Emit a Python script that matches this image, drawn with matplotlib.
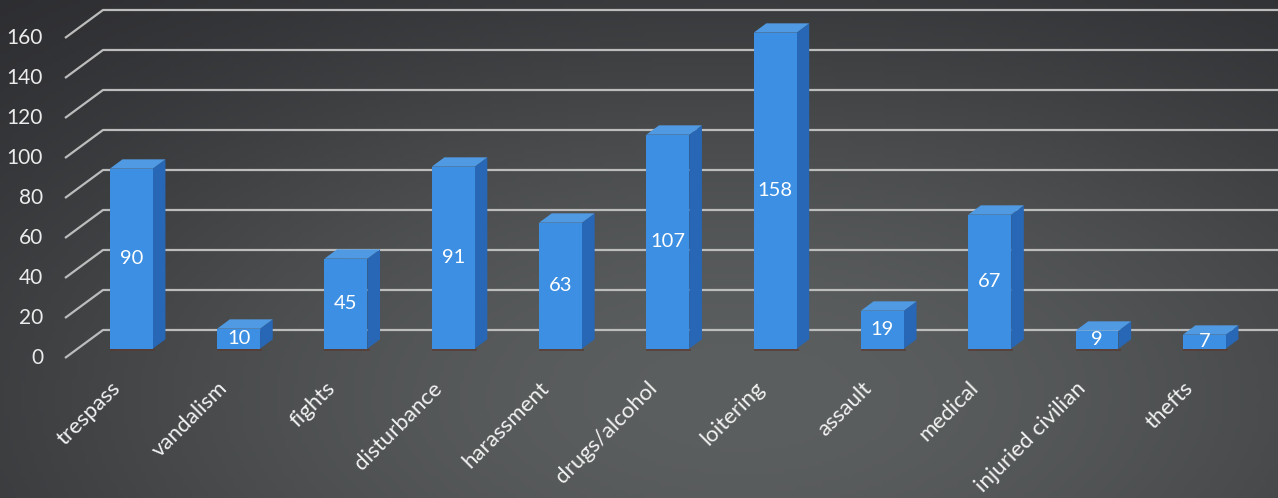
import numpy as np
import matplotlib
matplotlib.use('Agg')
from matplotlib import pyplot as plt
from matplotlib.patches import Polygon, Rectangle

categories = ['trespass', 'vandalism', 'fights', 'disturbance', 'harassment',
              'drugs/alcohol', 'loitering', 'assault', 'medical',
              'injuried civilian', 'thefts']
counts = [90, 10, 45, 91, 63, 107, 158, 19, 67, 9, 7]
y_ticks = [0, 20, 40, 60, 80, 100, 120, 140, 160]

plt.rcParams['font.family'] = ['Lato', 'DejaVu Sans']

fig = plt.figure(figsize=(12.78, 4.98), dpi=100)
ax = fig.add_axes([0, 0, 1, 1])
x_min, x_max = -65 / 107.3, (1278 - 65) / 107.3
y_min, y_max = -70, 179
ax.set_xlim(x_min, x_max)
ax.set_ylim(y_min, y_max)
ax.axis('off')

# dark background, lighter towards the lower middle
gx, gy = np.meshgrid(np.linspace(0, 1, 300), np.linspace(0, 1, 120))
r2 = ((gx - 0.58) / 0.8) ** 2 + ((gy - 0.2) / 1.0) ** 2
glow = np.exp(-r2 * 1.5)[..., None]
dark = np.array([36, 36, 40]) / 255
light = np.array([92, 95, 95]) / 255
bg = dark + (light - dark) * glow
ax.imshow(bg, extent=[x_min, x_max, y_min, y_max], origin='lower',
          aspect='auto', zorder=0)

# depth offset of the 3D box (category units, value units)
DX, DY = 38 / 107.3, 14
w = 0.40
f0 = 1 / 3          # bars start a third of the way back
bdx, bdy = DX / 3, DY / 3

for v in y_ticks:
    ax.plot([0, DX, x_max], [v, v + DY, v + DY], color='#bcbcbc', lw=1.6,
            zorder=1, solid_capstyle='butt')
    ax.text(-22 / 107.3, v, str(v), ha='right', va='center', fontsize=15,
            color='#ececec', zorder=5)

front_c = '#3c8fe2'
side_c = '#2767b5'
top_c = '#4f9ae2'
for i, (name, v) in enumerate(zip(categories, counts)):
    x0 = i + 0.5 - w / 2 + f0 * DX
    y0 = f0 * DY
    # faint shadow line under the bar
    ax.add_patch(Rectangle((x0, y0 - 1.2), w + 0.02, 1.2, color='#5a3a30',
                           alpha=0.7, lw=0, zorder=2))
    ax.add_patch(Polygon([(x0 + w, y0), (x0 + w + bdx, y0 + bdy),
                          (x0 + w + bdx, y0 + v + bdy), (x0 + w, y0 + v)],
                         closed=True, color=side_c, lw=0, zorder=3))
    ax.add_patch(Polygon([(x0, y0 + v), (x0 + bdx, y0 + v + bdy),
                          (x0 + w + bdx, y0 + v + bdy), (x0 + w, y0 + v)],
                         closed=True, color=top_c, lw=0, zorder=3))
    ax.add_patch(Rectangle((x0, y0), w, v, color=front_c, lw=0, zorder=3))
    ax.text(x0 + w / 2, y0 + v / 2, str(v), ha='center', va='center',
            fontsize=14.5, color='white', zorder=4)
    ax.text(i + 0.42, -10, name, rotation=45, rotation_mode='anchor',
            ha='right', va='top', fontsize=16, color='#f2f2f2', zorder=4)

fig.savefig('out.png', dpi=100)
